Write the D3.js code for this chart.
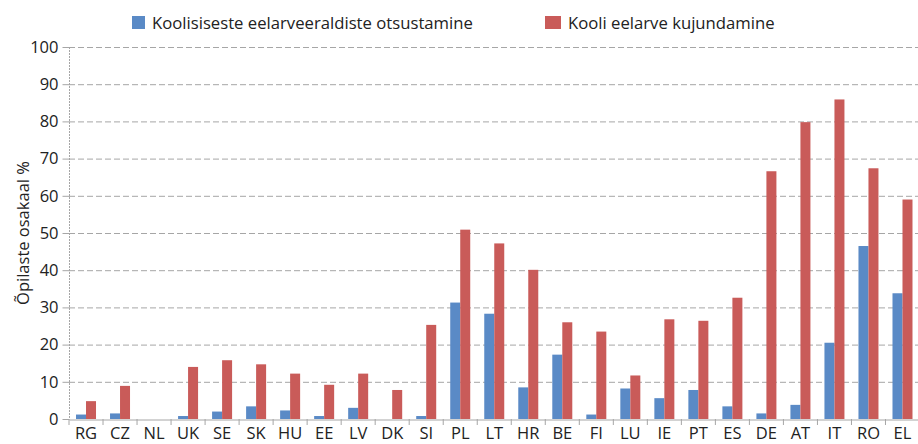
<!DOCTYPE html>
<html><head><meta charset="utf-8">
<script src="https://cdn.jsdelivr.net/npm/d3@7"></script>
<style>body{margin:0;background:#fff}svg{display:block}</style>
</head><body>
<svg id="c" width="918" height="444"></svg>
<script>
const categories = ["RG","CZ","NL","UK","SE","SK","HU","EE","LV","DK","SI","PL","LT","HR","BE","FI","LU","IE","PT","ES","DE","AT","IT","RO","EL"];
const seriesNames = ["Koolisiseste eelarveeraldiste otsustamine","Kooli eelarve kujundamine"];
const blueValues = [1.2,1.5,0,0.8,2.0,3.4,2.3,0.8,3.0,0,0.8,31.3,28.3,8.5,17.3,1.2,8.2,5.6,7.8,3.4,1.5,3.8,20.5,46.5,33.8];
const redValues  = [4.8,8.9,0,14.0,15.8,14.7,12.2,9.2,12.2,7.8,25.3,50.9,47.2,40.1,26.0,23.5,11.7,26.8,26.4,32.6,66.6,79.8,85.9,67.4,59.0];
const yTicks = [0,10,20,30,40,50,60,70,80,90,100];
const colors = ["#5a8ac6","#c95b59"];

const svg = d3.select("#c");
const font = "'Open Sans', sans-serif";
const x0 = 69, x1 = 919.5, yTop = 47, yBot = 419;
const x = d3.scaleBand().domain(categories).range([x0, x1]).padding(0);
const y = d3.scaleLinear().domain([0,100]).range([yBot, yTop]);
const sub = d3.scaleBand().domain([0,1]).range([0,20]);

// gridlines
svg.append("g").selectAll("line").data(yTicks.filter(d=>d>0)).join("line")
  .attr("x1", x0).attr("x2", 918).attr("y1", d=>y(d)+0.5).attr("y2", d=>y(d)+0.5)
  .attr("stroke", "#a6a6a6").attr("stroke-width", 1).attr("stroke-dasharray", "6,3");

// y axis (dotted line)
svg.append("line").attr("x1", x0+0.5).attr("x2", x0+0.5).attr("y1", yTop).attr("y2", yBot)
  .attr("stroke", "#a6a6a6").attr("stroke-dasharray", "2,1");

const yAxis = svg.append("g").attr("transform", `translate(${x0+0.5},0)`)
  .call(d3.axisLeft(y).tickValues(yTicks).tickSize(7).tickPadding(4));
yAxis.select(".domain").remove();
yAxis.selectAll(".tick line").attr("stroke", "#a6a6a6");
yAxis.selectAll(".tick text").attr("font-family", font).attr("font-size", 16.5).attr("fill", "#222");

// bars
const groups = svg.append("g").selectAll("g").data(categories).join("g")
  .attr("transform", d => `translate(${x(d) + (x.bandwidth()-20)/2},0)`);
groups.each(function(c, i){
  const vals = [blueValues[i], redValues[i]];
  d3.select(this).selectAll("rect").data(vals).join("rect")
    .attr("x", (d,j)=>sub(j)).attr("width", sub.bandwidth())
    .attr("y", d=>y(d)).attr("height", d=>yBot - y(d))
    .attr("fill", (d,j)=>colors[j]);
});

// x axis
const xAxis = svg.append("g").attr("transform", `translate(0,${yBot+0.5})`)
  .call(d3.axisBottom(x).tickSize(0).tickPadding(8));
xAxis.select(".domain").attr("stroke", "#a6a6a6");
xAxis.selectAll(".tick text").attr("font-family", font).attr("font-size", 16.5).attr("fill", "#222");
svg.append("g").selectAll("line").data(d3.range(categories.length+1)).join("line")
  .attr("x1", i => x0 + i*x.bandwidth()).attr("x2", i => x0 + i*x.bandwidth())
  .attr("y1", yBot).attr("y2", yBot+6).attr("stroke", "#a6a6a6");

// y title
svg.append("text").attr("transform", "translate(29,233) rotate(-90)")
  .attr("text-anchor", "middle").attr("font-family", font).attr("font-size", 16.5).attr("fill", "#222")
  .text("Õpilaste osakaal %");

// legend
const legendPos = [[132,152],[545,568]];
seriesNames.forEach((n,i)=>{
  svg.append("rect").attr("x", legendPos[i][0]).attr("y", 16).attr("width", i===0?13:16).attr("height", 13).attr("fill", colors[i]);
  svg.append("text").attr("x", legendPos[i][1]).attr("y", 29).attr("font-family", font).attr("font-size", 16.7).attr("fill", "#222").text(n);
});
</script>
</body></html>
